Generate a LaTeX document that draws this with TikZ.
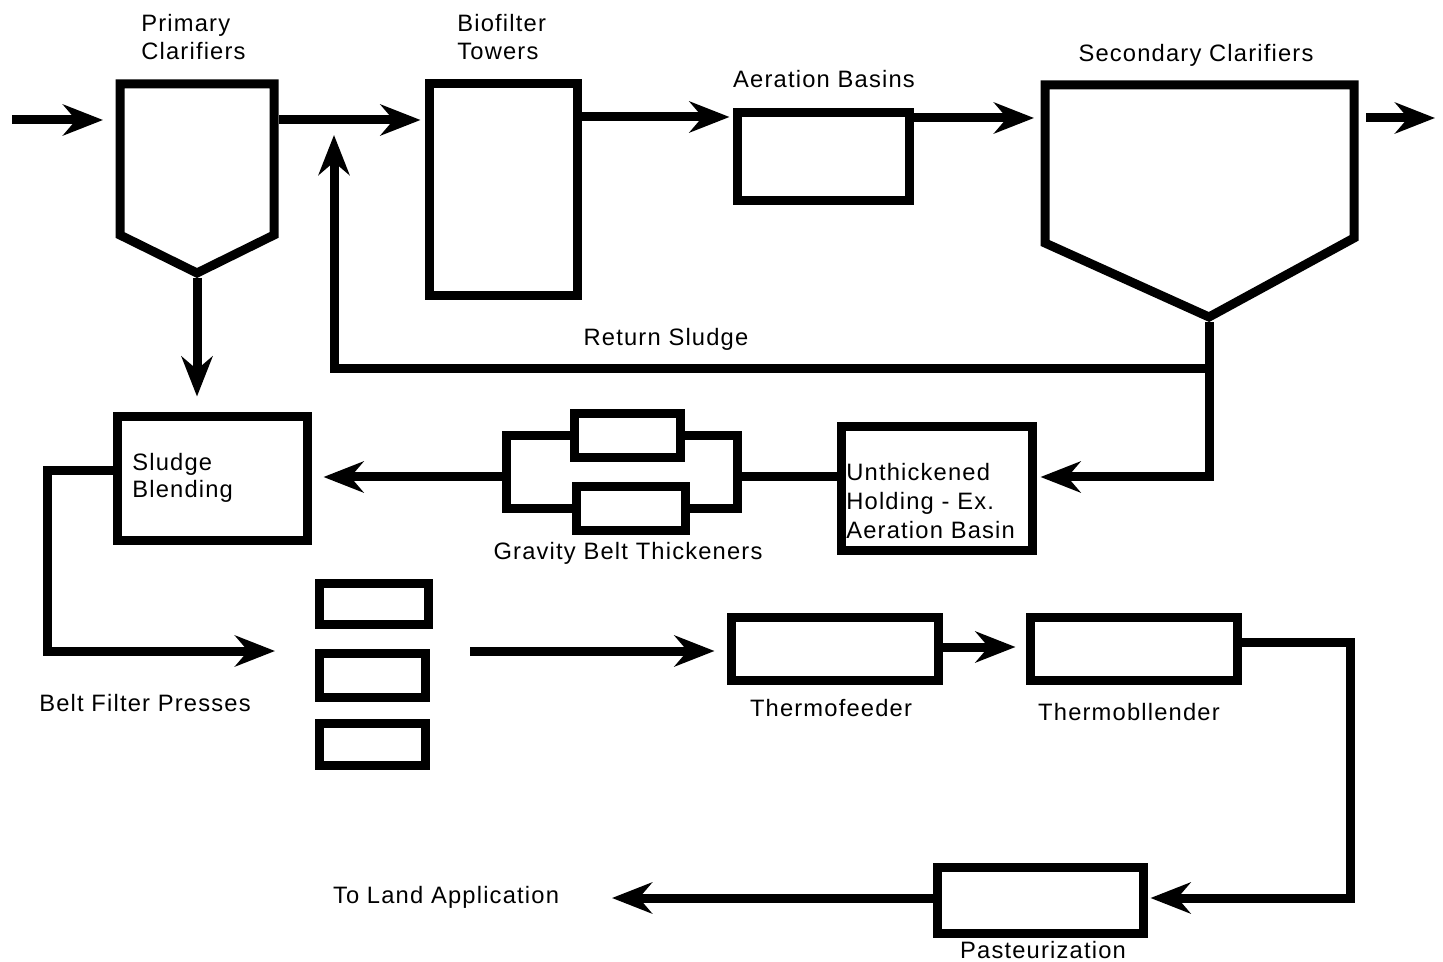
\documentclass[tikz,border=0pt]{standalone}
\usepackage{fontspec}
\setmainfont{Liberation Sans}
\newfontfamily\lblfont[LetterSpace=5]{Liberation Sans}
\usetikzlibrary{arrows.meta}
\newdimen\px \px=0.02cm
\begin{document}
\begin{tikzpicture}[x=0.02cm,y=-0.02cm,
  box/.style={draw, line width=9\px, inner sep=0pt, line join=miter},
  pipe/.style={line width=9\px, line join=miter},
  arr/.style={pipe, -{Stealth[length=0.8cm, width=0.62cm, inset=0.26cm]}},
  lbl/.style={font=\lblfont\fontsize{13.5}{15.6}\selectfont, inner sep=0pt},
  hid/.style={inner sep=0pt, outer sep=0pt}]
\useasboundingbox (0,0) rectangle (1443,962);

% ---------- clarifiers ----------
\draw[pipe] (120,84) -- (274,84) -- (274,235) -- (197,273) -- (120,235) -- cycle;
\coordinate (pcW) at (115,120);
\coordinate (pcE) at (279,120);
\coordinate (pcB) at (197,278);
\draw[pipe] (1045,85) -- (1354,85) -- (1354,238) -- (1209,317) -- (1045,243) -- cycle;
\coordinate (scW) at (1040,118);
\coordinate (scE) at (1359,118);
\coordinate (scB) at (1209,322);

% ---------- boxes ----------
\node[box, minimum width=148\px, minimum height=212\px] (bio) at (503,190) {};
\node[box, minimum width=172\px, minimum height=88\px] (aer) at (823,157) {};
\node[box, minimum width=191\px, minimum height=123\px] (unth) at (936.5,488.5) {};
\node[box, minimum width=106\px, minimum height=44\px] (g1) at (627,436) {};
\node[box, minimum width=109\px, minimum height=43\px] (g2) at (630.5,508.5) {};
\node[box, minimum width=190\px, minimum height=123\px] (sb) at (212,478.5) {};
\node[box, minimum width=109\px, minimum height=41\px] (bf1) at (373.5,603.5) {};
\node[box, minimum width=106\px, minimum height=44\px] (bf2) at (372,675) {};
\node[box, minimum width=106\px, minimum height=42\px] (bf3) at (372,744) {};
\node[box, minimum width=207\px, minimum height=63\px] (tf) at (834.5,648.5) {};
\node[box, minimum width=207\px, minimum height=63\px] (tb) at (1133.5,648.5) {};
\node[box, minimum width=206\px, minimum height=66\px] (past) at (1040,900) {};

% ---------- labels ----------
\node[lbl, anchor=west, align=left] (lpc) at (141,37) {Primary\\Clarifiers};
\node[lbl, anchor=west, align=left] (lbio) at (457,37) {Biofilter\\Towers};
\node[lbl] (laer) at (824,79) {Aeration Basins};
\node[lbl] (lsc) at (1196,55) {Secondary Clarifiers};
\node[lbl] (lret) at (666,339) {Return Sludge};
\node[lbl, anchor=west, align=left] (lsb) at (132,478) {Sludge\\Blending};
\node[lbl, anchor=west, align=left, font=\lblfont\fontsize{13.5}{16.3}\selectfont] (lun) at (846,501) {Unthickened\\Holding - Ex.\\Aeration Basin};
\node[lbl] (lgbt) at (628,553) {Gravity Belt Thickeners};
\node[lbl] (lbf) at (145,703) {Belt Filter Presses};
\node[lbl] (ltf) at (831,708) {Thermofeeder};
\node[lbl] (ltb) at (1129,712) {Thermobllender};
\node[lbl] (lland) at (446,897) {To Land Application};
\node[lbl] (lpast) at (1043,950) {Pasteurization};

% ---------- helper coordinates ----------
\coordinate (in) at (12,120);
\coordinate (out) at (1435,118);
\coordinate (f2) at (0,117);
\coordinate (f3) at (0,118);
\coordinate (rj) at (1209,369);
\coordinate (rt) at (334,135);
\coordinate (uj) at (1209,477);
\coordinate (gl) at (506,477);
\coordinate (gr) at (737,477);
\coordinate (c1) at (47,471);
\coordinate (bfIn) at (275,651);
\coordinate (bfOut) at (470,651);
\coordinate (f10) at (0,647);
\coordinate (k1) at (1350,642);
\coordinate (k2) at (1350,898);
\coordinate (landT) at (612,898);

% ---------- connectors ----------
\draw[arr, shorten >=12\px] (in) -- (pcW);
\draw[arr, shorten >=4\px] (pcE) -- (pcE -| bio.west);
\draw[arr, shorten >=3\px] (bio.east |- f2) -- (aer.west |- f2);
\draw[arr, shorten >=6\px] (aer.east |- f3) -- (scW);
\draw[arr, shorten <=7\px] (scE) -- (out);
\draw[arr, shorten >=16\px] (pcB) -- (pcB |- sb.north);
\draw[pipe] (scB) -- (rj);
\draw[arr] (rj) -| (rt);
\draw[arr, shorten >=4\px] (rj) -- (uj) -- (unth.east |- uj);
\draw[pipe] (unth.west |- gr) -- (gr);
\draw[pipe] (g1.west) -| (gl) |- (g2.west);
\draw[pipe] (g1.east) -| (gr) |- (g2.east);
\draw[arr, shorten >=12\px] (gl) -- (sb.east |- gl);
\draw[arr] (sb.west |- c1) -- (c1) |- (bfIn);
\draw[arr, shorten >=12\px] (bfOut) -- (tf.west |- bfOut);
\draw[arr, shorten >=10\px] (tf.east |- f10) -- (tb.west |- f10);
\draw[arr, shorten >=3\px] (tb.east |- k1) -- (k1) -- (k2) -- (past.east |- k2);
\draw[arr] (past.west |- k2) -- (landT);
\end{tikzpicture}
\end{document}
